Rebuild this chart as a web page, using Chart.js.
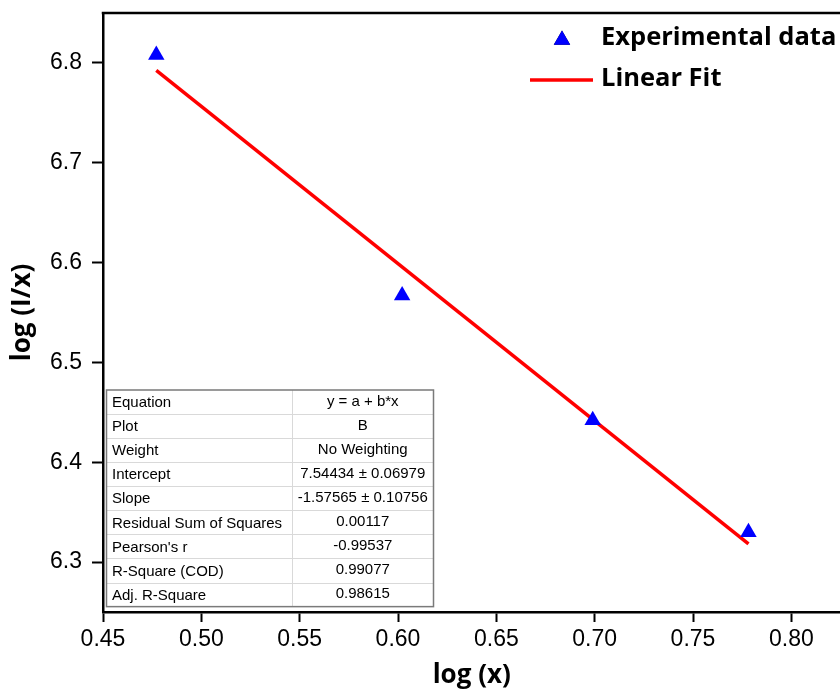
<!DOCTYPE html>
<html>
<head>
<meta charset="utf-8">
<script src="https://cdn.jsdelivr.net/npm/chart.js@4/dist/chart.umd.min.js"></script>
<style>
  html, body { margin: 0; padding: 0; background: #fff; overflow: hidden; }
  #wrap { position: relative; width: 840px; height: 691px; overflow: hidden; }
  #c { display: block; }
</style>
</head>
<body>
<div id="wrap"><canvas id="c" width="850" height="691"></canvas></div>
<script>
// Measured points: log(x) against log(I/x)
const logX  = [0.4771, 0.6021, 0.6990, 0.7782];
const logIx = [6.808, 6.567, 6.442, 6.330];

// Linear fit y = a + b*x evaluated at the first and last measured x
const fitX = [0.4771, 0.7782];
const fitY = [6.7926, 6.3182];

const xTicks = [0.45, 0.50, 0.55, 0.60, 0.65, 0.70, 0.75, 0.80];
const yTicks = [6.3, 6.4, 6.5, 6.6, 6.7, 6.8];

const seriesNames = ['Experimental data', 'Linear Fit'];

// Fit report table
const statLabels = ['Equation', 'Plot', 'Weight', 'Intercept', 'Slope',
  'Residual Sum of Squares', "Pearson's r", 'R-Square (COD)', 'Adj. R-Square'];
const statValues = ['y = a + b*x', 'B', 'No Weighting', '7.54434 \u00b1 0.06979',
  '-1.57565 \u00b1 0.10756', '0.00117', '-0.99537', '0.99077', '0.98615'];

const TICK_FONT = { family: '"Liberation Sans", Arial, sans-serif', size: 23 };
const TITLE_FONT = { family: '"Open Sans", sans-serif', size: 26, weight: 'bold' };

// Top frame line of the plot box
const frameTop = {
  id: 'frameTop',
  afterDraw(chart) {
    const { ctx, chartArea: a } = chart;
    ctx.save();
    ctx.strokeStyle = '#000';
    ctx.lineWidth = 2.5;
    ctx.beginPath();
    ctx.moveTo(a.left - 1.25, a.top);
    ctx.lineTo(a.right + 2, a.top);
    ctx.stroke();
    ctx.restore();
  }
};

// Legend in the upper-right corner, styled from the datasets
const cornerLegend = {
  id: 'cornerLegend',
  afterDraw(chart) {
    const ctx = chart.ctx;
    const ds0 = chart.data.datasets[0];
    const ds1 = chart.data.datasets[1];
    ctx.save();
    // triangle marker
    Chart.helpers.drawPoint(ctx, {
      pointStyle: 'triangle', radius: ds0.pointRadius, borderWidth: 0, rotation: 0
    }, 562, 40);
    ctx.fillStyle = ds0.backgroundColor;
    ctx.fill();
    // fit line sample
    ctx.strokeStyle = ds1.borderColor;
    ctx.lineWidth = ds1.borderWidth;
    ctx.beginPath();
    ctx.moveTo(530, 80);
    ctx.lineTo(593, 80);
    ctx.stroke();
    ctx.fillStyle = '#000';
    ctx.font = 'bold 25.5px "Open Sans", sans-serif';
    ctx.textBaseline = 'middle';
    ctx.textAlign = 'left';
    ctx.fillText(seriesNames[0], 601, 38);
    ctx.fillText(seriesNames[1], 601, 79);
    ctx.restore();
  }
};

// Fit report table in the lower-left of the plot
const fitTable = {
  id: 'fitTable',
  afterDraw(chart) {
    const ctx = chart.ctx;
    const x0 = 106.5, x1 = 433.5, xc = 292, y0 = 390, rowH = 24.07;
    const n = statLabels.length;
    const y1 = y0 + rowH * n;
    ctx.save();
    ctx.fillStyle = '#fff';
    ctx.fillRect(x0, y0, x1 - x0, y1 - y0);
    ctx.strokeStyle = '#d9d9d9';
    ctx.lineWidth = 1;
    for (let i = 1; i < n; i++) {
      const y = Math.round(y0 + rowH * i) + 0.5;
      ctx.beginPath();
      ctx.moveTo(x0, y);
      ctx.lineTo(x1, y);
      ctx.stroke();
    }
    ctx.beginPath();
    ctx.moveTo(xc + 0.5, y0);
    ctx.lineTo(xc + 0.5, y1);
    ctx.stroke();
    ctx.strokeStyle = '#7a7a7a';
    ctx.lineWidth = 1.5;
    ctx.strokeRect(x0, y0, x1 - x0, y1 - y0);
    ctx.fillStyle = '#000';
    ctx.font = '15px "Liberation Sans", Arial, sans-serif';
    ctx.textBaseline = 'middle';
    for (let i = 0; i < n; i++) {
      const yc = y0 + rowH * (i + 0.5);
      ctx.textAlign = 'left';
      ctx.fillText(statLabels[i], 112, yc + 1);
      ctx.textAlign = 'center';
      ctx.fillText(statValues[i], (xc + x1) / 2, yc - 0.5);
    }
    ctx.restore();
  }
};

new Chart(document.getElementById('c'), {
  type: 'scatter',
  data: {
    datasets: [
      {
        label: seriesNames[0],
        data: logX.map((x, i) => ({ x, y: logIx[i] })),
        pointStyle: 'triangle',
        pointRadius: 9.5,
        pointHoverRadius: 9.5,
        backgroundColor: '#0000ff',
        borderColor: '#0000ff',
        borderWidth: 0,
        showLine: false,
        order: 1
      },
      {
        label: seriesNames[1],
        data: fitX.map((x, i) => ({ x, y: fitY[i] })),
        showLine: true,
        pointRadius: 0,
        borderColor: '#ff0000',
        backgroundColor: '#ff0000',
        borderWidth: 3.5,
        order: 2
      }
    ]
  },
  options: {
    responsive: false,
    animation: false,
    devicePixelRatio: 1,
    layout: { padding: { top: 13, right: 0, left: 0, bottom: 0 } },
    plugins: { legend: { display: false }, tooltip: { enabled: false } },
    scales: {
      x: {
        type: 'linear',
        min: 0.45,
        max: 0.825,
        afterBuildTicks: s => { s.ticks = xTicks.map(v => ({ value: v })); },
        afterFit: s => { s.height = 79; s.paddingLeft = 0; s.paddingRight = 0; },
        ticks: {
          color: '#000', font: TICK_FONT, padding: 4, maxRotation: 0, autoSkip: false,
          callback: v => Number(v).toFixed(2)
        },
        grid: { drawOnChartArea: false, drawTicks: true, tickLength: 10, tickWidth: 2, tickColor: '#000' },
        border: { color: '#000', width: 2.5 },
        title: { display: true, text: 'log (x)', color: '#000', font: TITLE_FONT, padding: { top: 0, bottom: 0 } }
      },
      y: {
        type: 'linear',
        min: 6.25,
        max: 6.85,
        afterBuildTicks: s => { s.ticks = yTicks.map(v => ({ value: v })); },
        afterFit: s => { s.width = 103; s.paddingTop = 0; s.paddingBottom = 0; },
        ticks: {
          color: '#000', font: TICK_FONT, padding: 10, autoSkip: false,
          callback: v => Number(v).toFixed(1)
        },
        grid: { drawOnChartArea: false, drawTicks: true, tickLength: 11, tickWidth: 2, tickColor: '#000' },
        border: { color: '#000', width: 2.5 },
        title: { display: true, text: 'log (I/x)', color: '#000', font: TITLE_FONT, padding: { top: 7, bottom: 0 } }
      }
    }
  },
  plugins: [frameTop, fitTable, cornerLegend]
});
</script>
</body>
</html>
